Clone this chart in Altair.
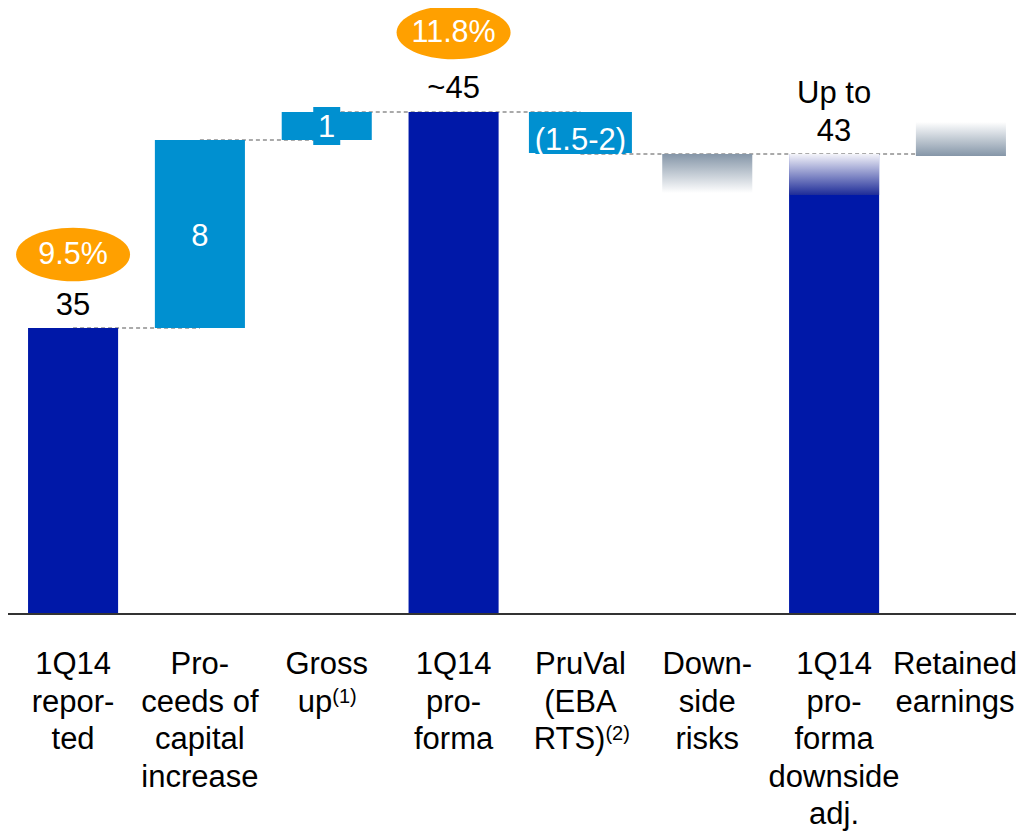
import altair as alt
import pandas as pd

FONT = "Liberation Sans"

# ---- data (vertical units: the chart's own drawing scale) ----
categories = ["1Q14 reported", "Proceeds of capital increase", "Gross up", "1Q14 pro-forma",
              "PruVal (EBA RTS)", "Downside risks", "1Q14 pro-forma downside adj.", "Retained earnings"]
label_lines = ["1Q14\nrepor-\nted", "Pro-\nceeds of\ncapital\nincrease", "Gross", "1Q14\npro-\nforma",
               "PruVal\n(EBA", "Down-\nside\nrisks", "1Q14\npro-\nforma\ndownside\nadj.", "Retained\nearnings"]
bar_start = [0, 28.6, 47.4, 0, 50.2, 46.0, 0, 45.8]
bar_end = [28.6, 47.4, 50.2, 50.2, 46.0, 42.1, 46.0, 49.2]
bar_kind = ["total", "step", "step", "total", "step", "risk", "total", "earn"]

# gradient fade on top of the downside-adjusted total
fade_cat = ["1Q14 pro-forma downside adj."]
fade_start = [46.0]
fade_end = [41.9]

# connectors between bars
conn_from = categories[:-1]
conn_to = categories[1:]
conn_level = [28.6, 47.4, 50.2, 50.2, 46.0, 46.0, 46.0]

# value labels above totals
value_cat = ["1Q14 reported", "1Q14 pro-forma", "1Q14 pro-forma downside adj."]
value_text = ["35", "~45", "Up to\n43"]
value_level = [29.9, 51.6, 51.1]

# labels inside the step bars
inner_cat = ["Proceeds of capital increase", "Gross up", "PruVal (EBA RTS)"]
inner_text = ["8", "1", "(1.5-2)"]
inner_level = [36.8, 47.7, 46.4]

# ratio bubbles
ratio_cat = ["1Q14 reported", "1Q14 pro-forma"]
ratio_text = ["9.5%", "11.8%"]
ratio_level = [35.95, 58.15]

# superscripted label lines
sup_cat = ["Gross up", "PruVal (EBA RTS)"]
sup_main = ["up", "RTS)"]
sup_note = ["(1)", "(2)"]

DARK = "#0018A8"
LIGHT = "#0090D0"
ORANGE = "#FFA000"
GREY = "#8596A8"

bars = pd.DataFrame({"cat": categories, "start": bar_start, "end": bar_end, "kind": bar_kind})
labels = pd.DataFrame({"cat": categories, "text": label_lines})
fade = pd.DataFrame({"cat": fade_cat, "start": fade_start, "end": fade_end})
conns = pd.DataFrame({"from": conn_from, "to": conn_to, "level": conn_level})
values = pd.DataFrame({"cat": value_cat, "text": value_text, "level": value_level})
inner = pd.DataFrame({"cat": inner_cat, "text": inner_text, "level": inner_level})
ratios = pd.DataFrame({"cat": ratio_cat, "text": ratio_text, "level": ratio_level})
sups = pd.DataFrame({"cat": sup_cat, "main": sup_main, "note": sup_note})

PLOT_W = 1008
PLOT_H = 826
TOP = 60.6
xscale = alt.Scale(domain=categories, range=[0, 1018], paddingInner=0.29, paddingOuter=0.158)
yscale = alt.Scale(domain=[TOP - PLOT_H / 10, TOP], nice=False, zero=False)

LINE1 = -6.0
PITCH = 3.75

def X(field="cat"):
    return alt.X(f"{field}:N", scale=xscale, sort=categories, axis=None)

def Y(field):
    return alt.Y(f"{field}:Q", scale=yscale, axis=None)

def grad(top, bottom):
    return alt.LinearGradient(
        gradient="linear",
        stops=[alt.GradientStop(color=top, offset=0), alt.GradientStop(color=bottom, offset=1)],
        x1=0, x2=0, y1=0, y2=1,
    )

connectors = alt.Chart(conns).mark_rule(color="#8f8f8f", strokeWidth=1.6, strokeDash=[4, 3]).encode(
    x=X("from"), x2="to:N", y=Y("level")
)

baseline = alt.Chart(pd.DataFrame({"level": [0]})).mark_rule(color="#333333", strokeWidth=2).encode(
    x=alt.value(0), x2=alt.value(PLOT_W), y=Y("level")
)

def bar_layer(kind, **kw):
    return alt.Chart(bars).transform_filter(alt.datum.kind == kind).mark_bar(**kw).encode(
        x=X(), y=Y("start"), y2="end:Q"
    )

totals = bar_layer("total", color=DARK)
steps = bar_layer("step", color=LIGHT)
risk = bar_layer("risk", color=grad(GREY, "#FFFFFF"))
earn = bar_layer("earn", color=grad("#FFFFFF", GREY))

fade_layer = alt.Chart(fade).mark_bar(color=grad("#F4F4FA", "#1E2C98")).encode(
    x=X(), y=Y("start"), y2="end:Q"
)

# text background boxes on the small step bars
box1 = alt.Chart(pd.DataFrame({"cat": ["Gross up"], "start": [50.7], "end": [46.9]})).mark_bar(
    color=LIGHT, width=27).encode(x=X(), y=Y("start"), y2="end:Q")
box2 = alt.Chart(pd.DataFrame({"cat": ["PruVal (EBA RTS)"], "start": [50.2], "end": [46.1]})).mark_bar(
    color=LIGHT, width=103).encode(x=X(), y=Y("start"), y2="end:Q")

ellipse_path = "M-1,0A1,0.47,0,1,0,1,0A1,0.47,0,1,0,-1,0Z"
bubbles = alt.Chart(ratios).mark_point(
    shape=ellipse_path, size=12996, filled=True, opacity=1, color=ORANGE, strokeWidth=0
).encode(x=X(), y=Y("level"))
bubble_text = alt.Chart(ratios).mark_text(
    font=FONT, fontSize=30.5, color="white", align="center", baseline="middle"
).encode(x=X(), y=Y("level"), text="text:N")

value_layer = alt.Chart(values).mark_text(
    font=FONT, fontSize=31, color="black", align="center", baseline="alphabetic",
    lineBreak="\n", lineHeight=38
).encode(x=X(), y=Y("level"), text="text:N")

inner_layer = alt.Chart(inner).mark_text(
    font=FONT, fontSize=31, color="white", align="center", baseline="alphabetic"
).encode(x=X(), y=Y("level"), text="text:N")

def label_layer(cond, dx):
    return alt.Chart(labels).transform_filter(cond).mark_text(
        font=FONT, fontSize=31, color="black", align="center", baseline="alphabetic",
        lineBreak="\n", lineHeight=PITCH * 10, dx=dx
    ).encode(x=X(), y=alt.Y(datum=LINE1, scale=yscale, axis=None), text="text:N")

labels_main = label_layer(alt.datum.cat != categories[-1], 0)
labels_last = label_layer(alt.datum.cat == categories[-1], -6)

sup_layers = []
for cat, line_no, dx in [("Gross up", 1, 5.5), ("PruVal (EBA RTS)", 2, 25.0)]:
    base = alt.Chart(sups).transform_filter(alt.datum.cat == cat)
    lvl = LINE1 - line_no * PITCH
    sup_layers.append(base.mark_text(
        font=FONT, fontSize=31, color="black", align="right", baseline="alphabetic", dx=dx
    ).encode(x=X(), y=alt.Y(datum=lvl, scale=yscale, axis=None), text="main:N"))
    sup_layers.append(base.mark_text(
        font=FONT, fontSize=20, color="black", align="left", baseline="alphabetic", dx=dx, dy=-9
    ).encode(x=X(), y=alt.Y(datum=lvl, scale=yscale, axis=None), text="note:N"))

chart = alt.layer(
    connectors, totals, steps, risk, earn, fade_layer, box1, box2, baseline,
    bubbles, bubble_text, value_layer, inner_layer, labels_main, labels_last, *sup_layers
).properties(
    width=PLOT_W, height=PLOT_H, padding=0, autosize=alt.AutoSizeParams(type="none")
).configure_view(stroke=None)

chart.save("out.html", embed_options={"renderer": "svg", "actions": False})
